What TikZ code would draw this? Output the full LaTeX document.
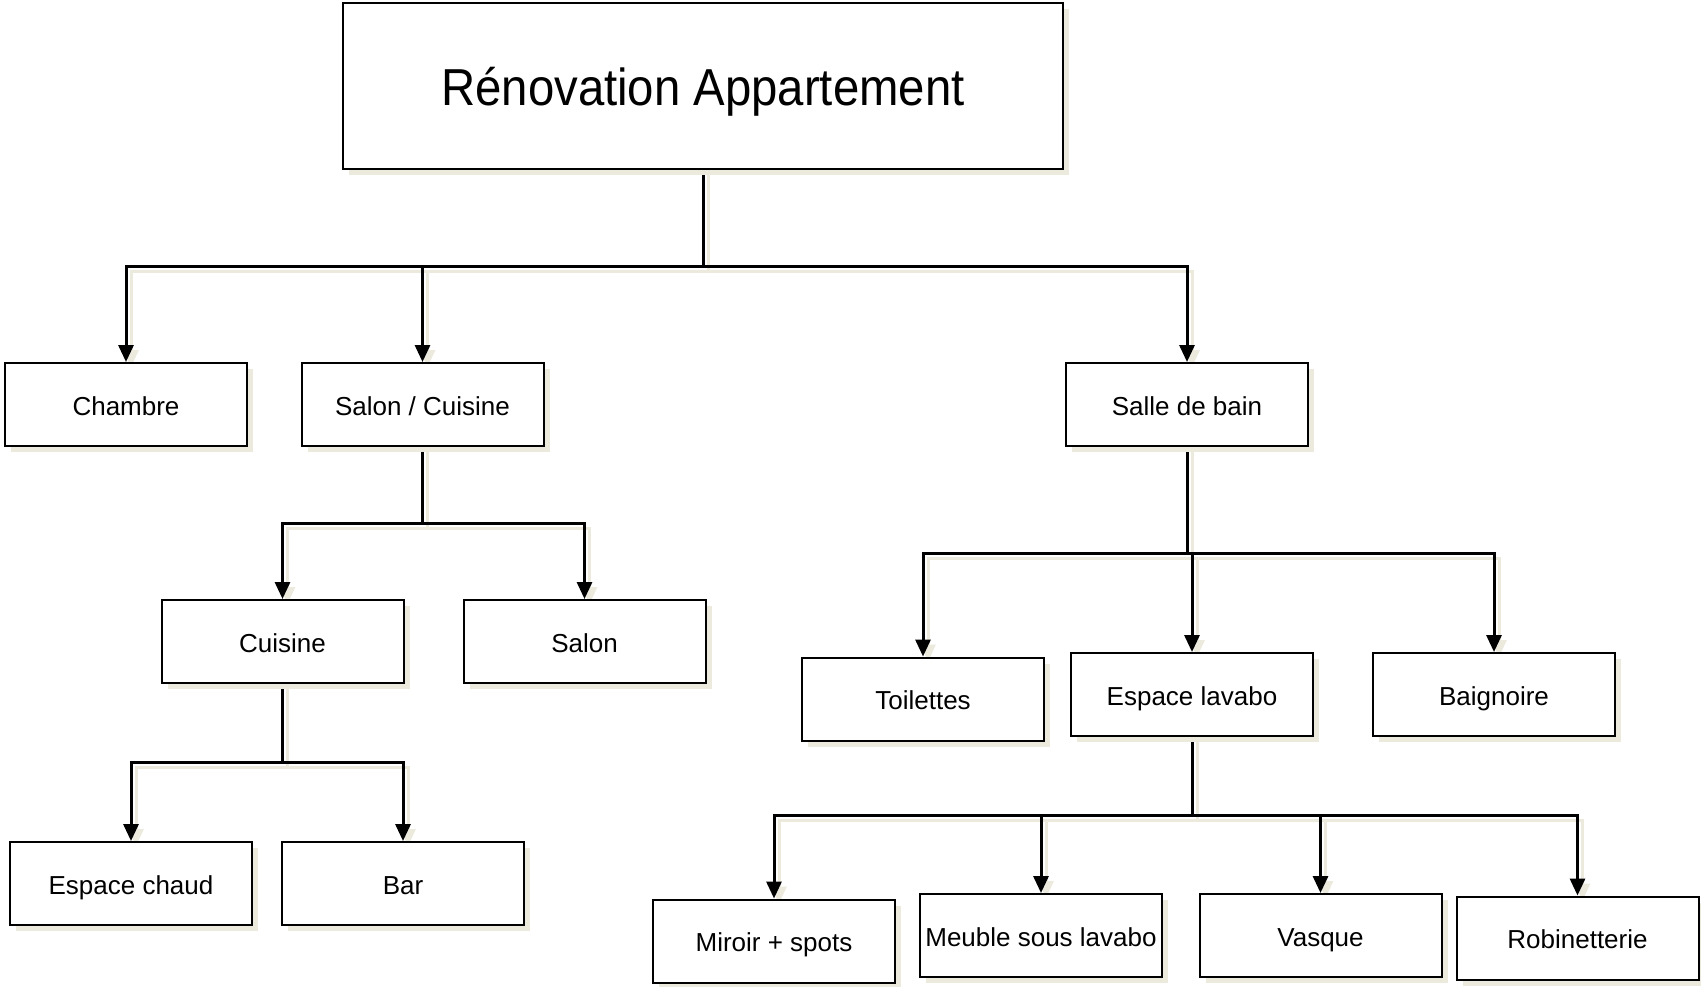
\documentclass[tikz,border=0pt]{standalone}
\usepackage{fontspec}
\usepackage{graphicx}
\setmainfont{Liberation Sans}
\usetikzlibrary{arrows.meta,shadows,backgrounds}
\definecolor{shadowc}{HTML}{ECE9DD}
\tikzset{
  box/.style={draw=black, line width=2pt, fill=white, minimum width=242pt, minimum height=83pt,
    inner sep=0pt, font=\fontsize{26}{30}\selectfont, text height=21pt, text depth=0pt,
    drop shadow={shadow xshift=6pt, shadow yshift=-6pt, fill=shadowc, opacity=1}},
  conn/.style={line width=3pt},
  arr/.style={conn, -{Triangle[length=17pt,width=15pt]}}
}
\newcommand{\myconnectors}{%
\draw[conn] (root.south) -- (b1);
\draw[arr] (b1) -| (chambre.north);
\draw[arr] (b1) -| (salcui.north);
\draw[arr] (b1) -| (sdb.north);
\draw[conn] (salcui.south) -- (b2);
\draw[arr] (b2) -| (cuisine.north);
\draw[arr] (b2) -| (salon.north);
\draw[conn] (cuisine.south) -- (b3);
\draw[arr] (b3) -| (chaud.north);
\draw[arr] (b3) -| (bar.north);
\draw[conn] (sdb.south) -- (b4);
\draw[arr] (b4) -| (toil.north);
\draw[arr] (b4) -| (lavabo.north);
\draw[arr] (b4) -| (baig.north);
\draw[conn] (lavabo.south) -- (b5);
\draw[arr] (b5) -| (miroir.north);
\draw[arr] (b5) -| (meuble.north);
\draw[arr] (b5) -| (vasque.north);
\draw[arr] (b5) -| (robi.north);}
\begin{document}
\begin{tikzpicture}[x=1pt,y=-1pt]
\useasboundingbox (0,0) rectangle (1701,986);
\node[box, minimum width=720pt, minimum height=166pt, text height=38pt] (root) at (703,86) {\fontsize{52}{60}\selectfont\scalebox{0.91}[1]{Rénovation Appartement}};
\node[box] (chambre) at (126,404.5) {Chambre};
\node[box] (salcui) at (422.5,404.5) {Salon / Cuisine};
\node[box] (sdb) at (1187,404.5) {Salle de bain};
\node[box] (cuisine) at (282.5,641.5) {Cuisine};
\node[box] (salon) at (584.5,641.5) {Salon};
\node[box] (chaud) at (131,883.5) {Espace chaud};
\node[box] (bar) at (403,883.5) {Bar};
\node[box] (toil) at (923,699) {Toilettes};
\node[box] (lavabo) at (1192,694.5) {Espace lavabo};
\node[box] (baig) at (1494,694.5) {Baignoire};
\node[box] (miroir) at (774,941) {Miroir + spots};
\node[box] (meuble) at (1041,935.5) {Meuble sous lavabo};
\node[box] (vasque) at (1320.5,935.5) {Vasque};
\node[box] (robi) at (1577.5,938) {Robinetterie};

\coordinate (b1) at (703,266);
\coordinate (b2) at (422.5,523);
\coordinate (b3) at (282.5,762);
\coordinate (b4) at (1187,553);
\coordinate (b5) at (1192,815);

\begin{scope}[on background layer]
\begin{scope}[transform canvas={shift={(5pt,-5pt)}}, shadowc, every path/.append style={draw=shadowc}]
\myconnectors
\end{scope}
\myconnectors
\end{scope}
\end{tikzpicture}
\end{document}
